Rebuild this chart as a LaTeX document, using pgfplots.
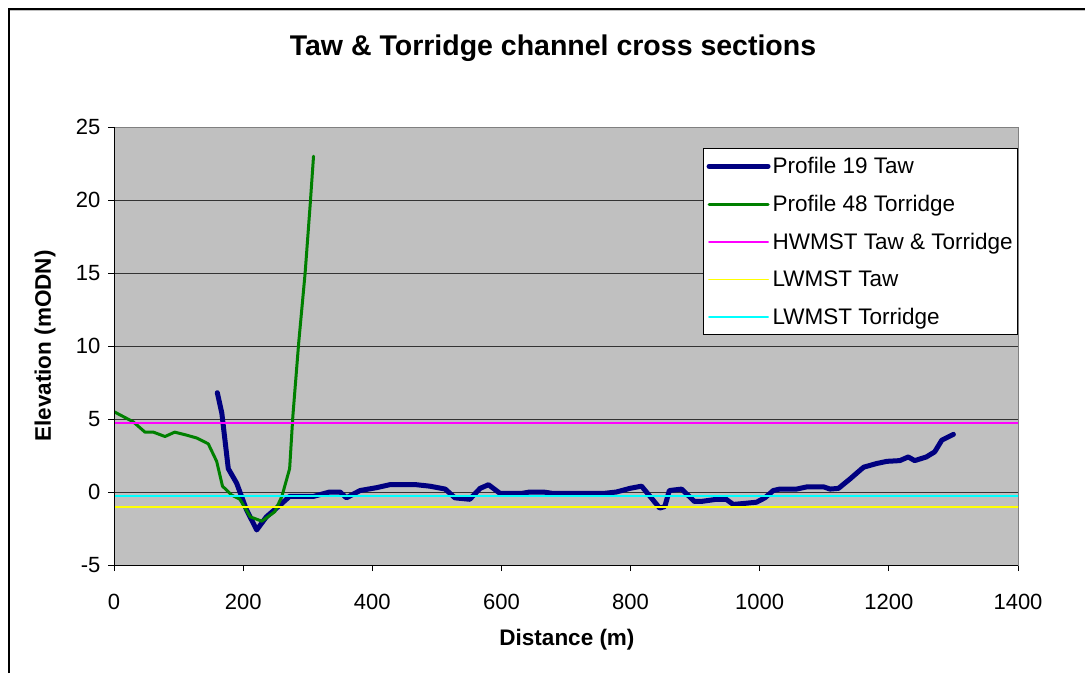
\documentclass[border=0pt]{standalone}
\usepackage{pgfplots}
\pgfplotsset{compat=1.18}
\usepackage{fontspec}
\setmainfont{Liberation Sans}
\definecolor{tawblue}{HTML}{000080}
\definecolor{torgreen}{HTML}{008000}
\definecolor{plotbg}{HTML}{C0C0C0}
\definecolor{hwmag}{HTML}{FF00FF}
\definecolor{lwyel}{HTML}{FFFF00}
\definecolor{lwcyan}{HTML}{00FFFF}
\begin{document}
\begin{tikzpicture}[x=1pt,y=1pt]
\path[use as bounding box] (0,0) rectangle (1085,673);
\draw[gray!50, line width=1.2pt] (10,662.3) -- (1085,662.3);
\draw[black, line width=1.5pt] (9,0) -- (9,664) -- (1085,664);
\node[font=\fontsize{28.5}{32}\selectfont\bfseries] at (553,625) {Taw \& Torridge channel cross sections};
\begin{axis}[
  at={(114pt,108pt)}, anchor=south west,
  scale only axis, width=904pt, height=438pt,
  xmin=0, xmax=1400, ymin=-5, ymax=25,
  xtick={0,200,...,1400}, ytick={-5,0,...,25},
  axis background/.style={fill=plotbg},
  axis line style={draw=gray, line width=0.8pt},
  ymajorgrids, grid style={black!80, line width=0.8pt},
  tick align=outside, xtick pos=bottom, ytick pos=left,
  major tick length=6pt,
  tick style={black, line width=0.8pt},
  /pgf/number format/assume math mode=true,
  /pgf/number format/1000 sep={},
  ticklabel style={font=\fontsize{22}{25}\selectfont},
  xticklabel style={yshift=-20pt},
  yticklabel style={xshift=-4pt},
  legend style={at={(1,0.952)}, anchor=north east, draw=black, fill=white,
    font=\fontsize{22.5}{25}\selectfont, row sep=16pt, inner xsep=3pt, inner ysep=7pt,
    line width=0.8pt},
  legend cell align=left,
  legend image code/.code={\path (-2pt,0pt) -- (57pt,0pt);\draw[#1] (0pt,0pt) -- (52pt,0pt);},
  every axis plot/.append style={line join=round, line cap=round},
  after end axis/.code={
    \draw[black, line width=0.8pt] (rel axis cs:0,1) -- (rel axis cs:0,0) -- (rel axis cs:1,0);
  },
]
\addplot[tawblue, line width=5pt, no marks] coordinates {
(160,6.8) (167,5.4) (177,1.6) (190,0.6) (205,-1.2) (221,-2.6) (236,-1.7)
(257,-0.9) (272,-0.3) (309,-0.3) (334,0.0) (350,0.0) (360,-0.4) (381,0.1)
(407,0.3) (427,0.5) (468,0.5) (489,0.4) (513,0.2) (528,-0.4) (551,-0.5)
(567,0.25) (580,0.5) (598,-0.1) (631,-0.1) (644,0.0) (665,0.0) (680,-0.1)
(758,-0.1) (778,0.0) (799,0.25) (817,0.4) (832,-0.4) (845,-1.1) (853,-1.0)
(860,0.1) (879,0.2) (899,-0.65) (909,-0.65) (933,-0.5) (948,-0.5) (959,-0.85)
(972,-0.8) (995,-0.7) (1008,-0.4) (1021,0.1) (1031,0.2) (1057,0.2) (1073,0.35)
(1099,0.35) (1109,0.2) (1122,0.25) (1140,0.9) (1153,1.4) (1161,1.7) (1181,1.95)
(1197,2.1) (1217,2.15) (1230,2.4) (1240,2.15) (1258,2.4) (1271,2.75) (1282,3.55)
(1300,3.95)
};
\addlegendentry{Profile 19 Taw}
\addplot[torgreen, line width=3pt, no marks] coordinates {
(0,5.5) (30,4.8) (48,4.1) (61,4.1) (79,3.8) (94,4.1) (112,3.9) (128,3.7)
(146,3.3) (159,2.1) (168,0.4) (182,-0.2) (195,-0.5) (211,-1.7) (229,-2.0)
(249,-1.35) (260,-0.3) (272,1.6) (277,5.2) (286,10.2) (296,15.0) (304,19.8) (309,23.0)
};
\addlegendentry{Profile 48 Torridge}
\addplot[hwmag, line width=1.8pt, no marks] coordinates {(0,4.75) (1400,4.75)};
\addlegendentry{HWMST Taw \& Torridge}
\addplot[lwyel, line width=1.8pt, no marks] coordinates {(0,-1.05) (1400,-1.05)};
\addlegendentry{LWMST Taw}
\addplot[lwcyan, line width=1.8pt, no marks] coordinates {(0,-0.3) (1400,-0.3)};
\addlegendentry{LWMST Torridge}
\end{axis}
\node[font=\fontsize{22.5}{26}\selectfont\bfseries] at (567,33) {Distance (m)};
\node[font=\fontsize{22.5}{26}\selectfont\bfseries, rotate=90] at (45,327) {Elevation (mODN)};
\end{tikzpicture}
\end{document}
